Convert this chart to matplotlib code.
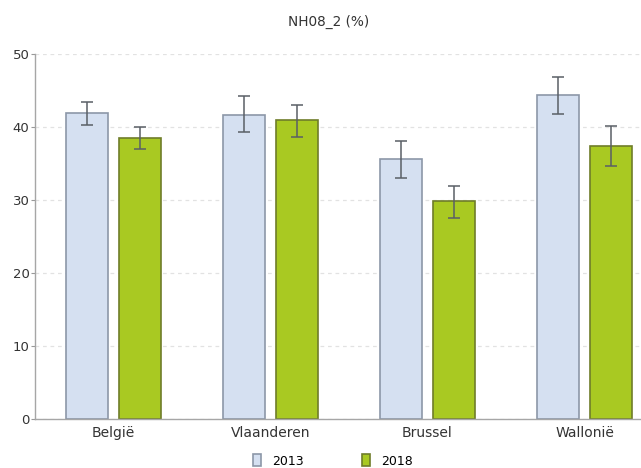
import matplotlib
matplotlib.use("Agg")
import matplotlib.pyplot as plt
import numpy as np

plt.rcParams['font.family'] = ['DejaVu Sans']

regions = ["België", "Vlaanderen", "Brussel", "Wallonië"]
years = ["2013", "2018"]
values_2013 = [41.9, 41.7, 35.6, 44.4]
low_2013 = [40.3, 39.3, 33.0, 41.8]
high_2013 = [43.4, 44.2, 38.1, 46.8]
values_2018 = [38.5, 40.9, 29.9, 37.4]
low_2018 = [37.0, 38.6, 27.6, 34.7]
high_2018 = [40.0, 43.0, 31.9, 40.1]
yticks = [0, 10, 20, 30, 40, 50]

fill_colors = ["#d5e0f1", "#a9c922"]
edge_colors = ["#8c97a8", "#6f7d2a"]

fig = plt.figure(figsize=(6.41, 4.68), dpi=100)
ax = fig.add_axes([35 / 641, 1 - 419 / 468, 1 - 35 / 641, (419 - 54) / 468])

x = np.arange(len(regions))
w = 0.27
offs = [-0.17, 0.17]
series = [(values_2013, low_2013, high_2013), (values_2018, low_2018, high_2018)]
for i, (vals, lo, hi) in enumerate(series):
    vals = np.array(vals)
    yerr = np.vstack([vals - np.array(lo), np.array(hi) - vals])
    ax.bar(x + offs[i], vals, width=w, color=fill_colors[i],
           edgecolor=edge_colors[i], linewidth=1.2, label=years[i], zorder=2)
    ax.errorbar(x + offs[i], vals, yerr=yerr, fmt='none', ecolor="#5a5f66",
                elinewidth=1.1, capsize=4.5, capthick=1.1, zorder=3)

ax.set_ylim(0, 50)
ax.set_xlim(-0.5, 3.36)
ax.set_yticks(yticks)
ax.set_yticklabels([str(t) for t in yticks], fontsize=9.5, color="#333333")
ax.set_xticks(x)
ax.set_xticklabels(regions, fontsize=10, color="#333333")
ax.tick_params(axis='x', length=0, pad=5)
ax.tick_params(axis='y', length=3, width=0.8, color="#999999", pad=1)
ax.yaxis.grid(True, linestyle=(0, (3, 3)), color="#e2e2e2", linewidth=0.9, zorder=0)
ax.set_axisbelow(True)
for s in ["top", "right"]:
    ax.spines[s].set_visible(False)
for s in ["left", "bottom"]:
    ax.spines[s].set_color("#a6a6a6")
    ax.spines[s].set_linewidth(1.0)

fig.text(329 / 641, 1 - 21.5 / 468, "NH08_2 (%)", ha='center', va='center',
         fontsize=9.8, color="#333333")

fig.legend(loc='center', bbox_to_anchor=(333 / 641, 1 - 461 / 468), ncol=2, frameon=False,
           fontsize=9, handlelength=0.65, handleheight=1.05, columnspacing=4.6,
           handletextpad=0.9, borderpad=0, borderaxespad=0)

fig.savefig("out.png", dpi=100)
